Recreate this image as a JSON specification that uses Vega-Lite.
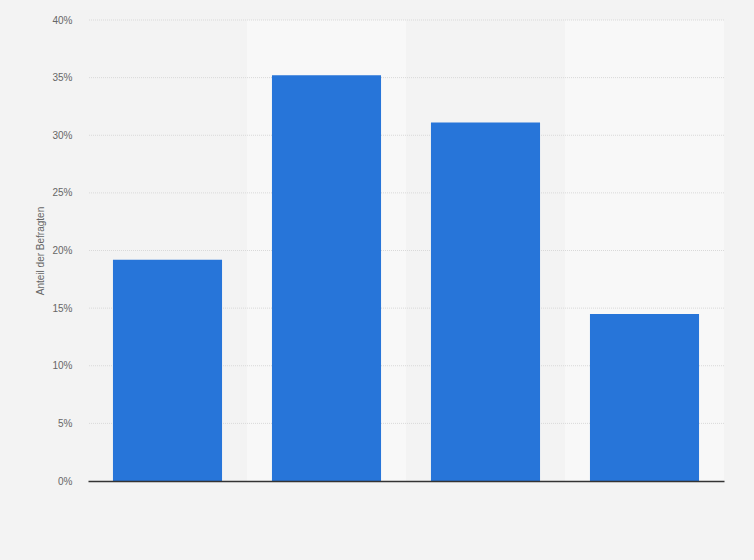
{
  "$schema": "https://vega.github.io/schema/vega-lite/v6.json",
  "width": 636,
  "height": 461,
  "autosize": {"type": "none"},
  "padding": {"left": 88, "top": 20, "right": 30, "bottom": 79},
  "background": "#f3f3f3",
  "config": {
    "view": {"stroke": null},
    "font": "Liberation Sans",
    "axis": {"labelFont": "Liberation Sans", "titleFont": "Liberation Sans"}
  },
  "datasets": {
    "answers": [
      {"antwort": "A", "anteil": 19.2},
      {"antwort": "B", "anteil": 35.2},
      {"antwort": "C", "anteil": 31.1},
      {"antwort": "D", "anteil": 14.5}
    ],
    "grid": [
      {"v": 5}, {"v": 10}, {"v": 15}, {"v": 20},
      {"v": 25}, {"v": 30}, {"v": 35}, {"v": 40}
    ]
  },
  "data": {"name": "answers"},
  "layer": [
    {
      "transform": [{"filter": "datum.antwort === 'B' || datum.antwort === 'D'"}],
      "mark": {"type": "bar", "width": 159, "color": "#f8f8f8"},
      "encoding": {
        "x": {"field": "antwort", "type": "nominal"},
        "y": {"datum": 40},
        "y2": {"datum": 0}
      }
    },
    {
      "data": {"name": "grid"},
      "mark": {"type": "rule", "color": "#d9d9d9", "strokeDash": [1, 1], "strokeWidth": 1},
      "encoding": {
        "y": {"field": "v", "type": "quantitative"}
      }
    },
    {
      "mark": {"type": "bar", "color": "#2775d9"},
      "encoding": {
        "x": {
          "field": "antwort",
          "type": "nominal",
          "sort": null,
          "scale": {"paddingInner": 0.314, "paddingOuter": 0.157},
          "axis": {
            "title": null,
            "labels": false,
            "ticks": false,
            "domain": true,
            "domainColor": "#333333",
            "domainWidth": 1.5,
            "zindex": 1
          }
        },
        "y": {
          "field": "anteil",
          "type": "quantitative",
          "scale": {"domain": [0, 40]},
          "axis": {
            "title": "Anteil der Befragten",
            "titleFontSize": 10,
            "titleFontWeight": "normal",
            "titleColor": "#666666",
            "titlePadding": 6,
            "values": [0, 5, 10, 15, 20, 25, 30, 35, 40],
            "labelExpr": "datum.value + '%'",
            "labelFontSize": 10,
            "labelColor": "#666666",
            "labelPadding": 16,
            "ticks": false,
            "domain": false,
            "grid": false
          }
        }
      }
    }
  ]
}
